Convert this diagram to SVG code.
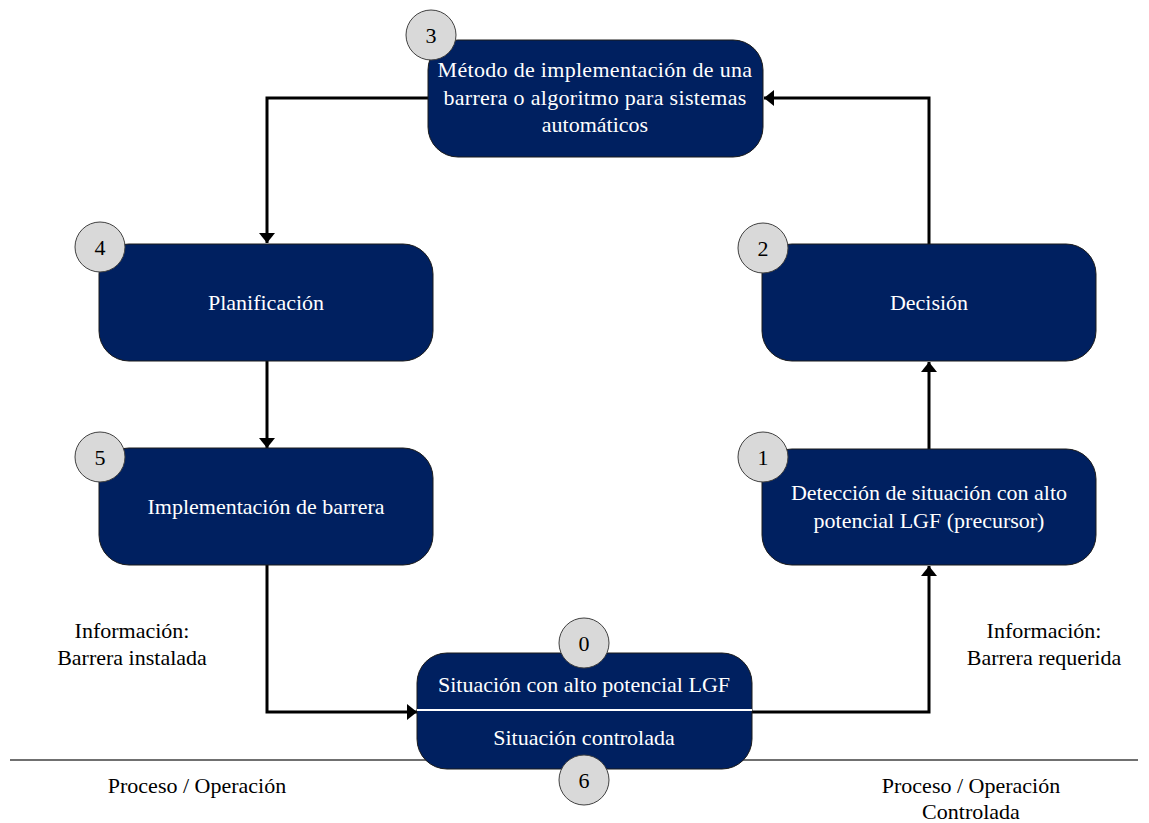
<svg xmlns="http://www.w3.org/2000/svg" width="1149" height="823" viewBox="0 0 1149 823">
<style>
.box{fill:#002060;stroke:#1a1a1a;stroke-width:1}
.num{fill:#d9d9d9;stroke:#404040;stroke-width:1}
.wt{font-family:'Liberation Serif','Times New Roman',serif;font-size:22px;fill:#ffffff;text-anchor:middle}
.bt{font-family:'Liberation Serif','Times New Roman',serif;font-size:22px;fill:#000000;text-anchor:middle}
.conn{fill:none;stroke:#000000;stroke-width:3;marker-end:url(#arr)}
</style>
<defs>
<marker id="arr" markerUnits="userSpaceOnUse" markerWidth="18" markerHeight="18" viewBox="0 0 18 18" refX="16" refY="9" orient="auto">
<path d="M6,1 L16,9 L6,17 Z" fill="#000000"/>
</marker>
</defs>
<rect x="0" y="0" width="1149" height="823" fill="#ffffff"/>
<line x1="10" y1="760" x2="1138" y2="760" stroke="#404040" stroke-width="1.5"/>
<g id="connectors">
<polyline class="conn" points="428,98 267,98 267,243"/>
<polyline class="conn" points="267,361 267,448"/>
<polyline class="conn" points="267,565 267,712 417,712"/>
<polyline class="conn" points="752,712 929,712 929,566"/>
<polyline class="conn" points="929,449 929,362"/>
<polyline class="conn" points="929,244 929,98 764,98"/>
</g>
<g id="node3">
<rect class="box" x="428" y="40" width="335" height="117" rx="30"/>
<text class="wt" x="595" y="77" letter-spacing="0.3">Método de implementación de una</text>
<text class="wt" x="595" y="105" letter-spacing="0.3">barrera o algoritmo para sistemas</text>
<text class="wt" x="595" y="132">automáticos</text>
<circle class="num" cx="431" cy="35" r="25"/>
<text class="bt" x="431" y="43">3</text>
</g>
<g id="node4">
<rect class="box" x="99" y="244" width="334" height="117" rx="30"/>
<text class="wt" x="266" y="310">Planificación</text>
<circle class="num" cx="100" cy="247" r="25"/>
<text class="bt" x="100" y="255">4</text>
</g>
<g id="node2">
<rect class="box" x="762" y="244" width="334" height="117" rx="30"/>
<text class="wt" x="929" y="310">Decisión</text>
<circle class="num" cx="763" cy="248" r="25"/>
<text class="bt" x="763" y="256">2</text>
</g>
<g id="node5">
<rect class="box" x="99" y="448" width="334" height="117" rx="30"/>
<text class="wt" x="266" y="514">Implementación de barrera</text>
<circle class="num" cx="100" cy="457" r="25"/>
<text class="bt" x="100" y="465">5</text>
</g>
<g id="node1">
<rect class="box" x="762" y="449" width="334" height="116" rx="30"/>
<text class="wt" x="929" y="500">Detección de situación con alto</text>
<text class="wt" x="929" y="528">potencial LGF (precursor)</text>
<circle class="num" cx="763" cy="457" r="25"/>
<text class="bt" x="763" y="465">1</text>
</g>
<g id="node0">
<rect class="box" x="417" y="653" width="335" height="116" rx="30"/>
<line x1="417" y1="710" x2="752" y2="710" stroke="#ffffff" stroke-width="2"/>
<text class="wt" x="584" y="692">Situación con alto potencial LGF</text>
<text class="wt" x="584" y="745">Situación controlada</text>
<circle class="num" cx="584" cy="643" r="25"/>
<text class="bt" x="584" y="651">0</text>
<circle class="num" cx="584" cy="780" r="25"/>
<text class="bt" x="584" y="788">6</text>
</g>
<g id="labels">
<text class="bt" x="132" y="638">Información:</text>
<text class="bt" x="132" y="665">Barrera instalada</text>
<text class="bt" x="1044" y="638">Información:</text>
<text class="bt" x="1044" y="665">Barrera requerida</text>
<text class="bt" x="197" y="793">Proceso / Operación</text>
<text class="bt" x="971" y="793">Proceso / Operación</text>
<text class="bt" x="971" y="819">Controlada</text>
</g>
</svg>
